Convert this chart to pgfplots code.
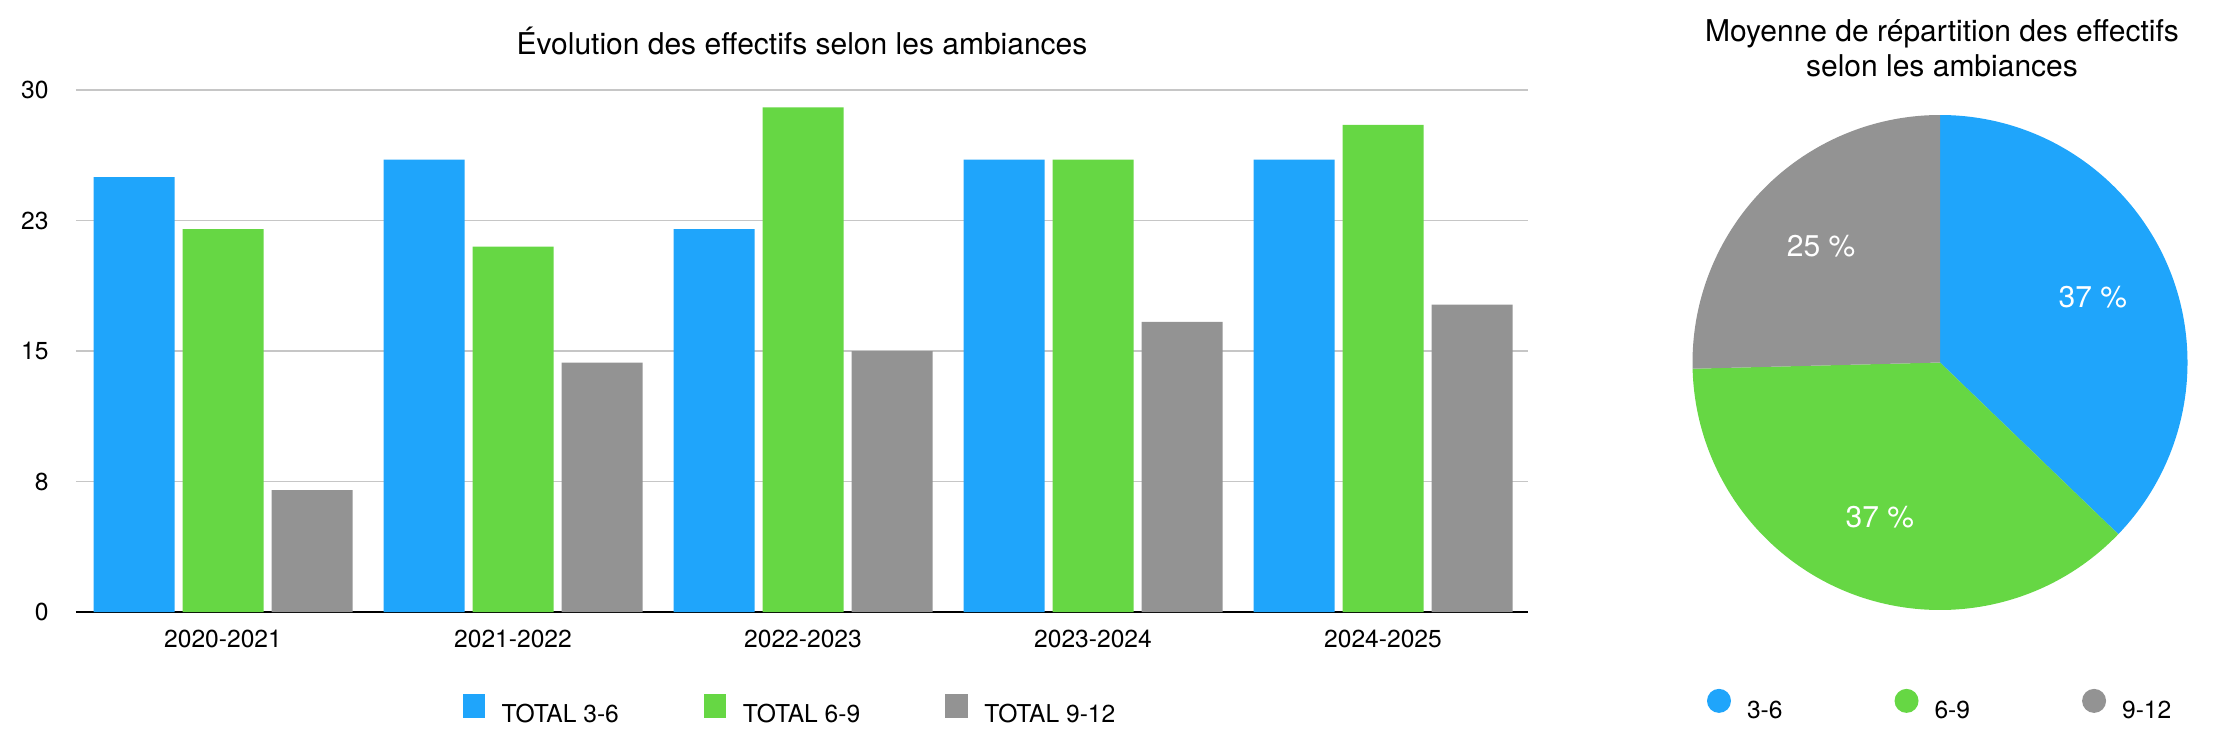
\documentclass[border=0pt]{standalone}
\usepackage{fontspec}
\setmainfont{TeX Gyre Heros}
\usepackage{pgfplots}
\usepackage{pgfplotstable}
\pgfplotsset{compat=1.18}

\definecolor{c36}{HTML}{1FA5FB}
\definecolor{c69}{HTML}{66D744}
\definecolor{c912}{HTML}{939393}
\definecolor{gridc}{HTML}{C6C6C6}

% effectifs par annee (x = rang de l'annee)
\pgfplotstableread{
x  a   b   c
0  25  22  7
1  26  21  14.33
2  22  29  15
3  26  26  16.67
4  26  28  17.67
}\bardata

% moyenne de repartition (en %)
\pgfplotstableread{
label share
3-6   37.2
6-9   37.4
9-12  25.4
}\piedata

\newcommand{\ticksize}{\fontsize{12.3}{14}\selectfont}
\newcommand{\titlesize}{\fontsize{15}{17.5}\selectfont}

\begin{document}
\begin{tikzpicture}
\useasboundingbox (0,0) rectangle (1120pt,376pt);

\pgfplotstablegetelem{0}{share}\of\piedata\pgfmathsetmacro\sA{\pgfplotsretval}
\pgfplotstablegetelem{1}{share}\of\piedata\pgfmathsetmacro\sB{\pgfplotsretval}
\pgfplotstablegetelem{2}{share}\of\piedata\pgfmathsetmacro\sC{\pgfplotsretval}
\pgfmathsetmacro\eA{90-3.6*\sA}
\pgfmathsetmacro\eB{\eA-3.6*\sB}
\pgfmathsetmacro\mA{90-1.8*\sA}
\pgfmathsetmacro\mB{\eA-1.8*\sB}
\pgfmathsetmacro\mC{\eB-1.8*\sC}

\begin{axis}[
  at={(38pt,70pt)}, anchor=south west,
  scale only axis, width=726pt, height=261pt,
  xmin=-0.5069, xmax=4.5, ymin=0, ymax=30,
  ybar=4pt, bar width=40.5pt,
  axis x line*=bottom, axis y line*=left,
  x axis line style={-, draw=black, line width=0.7pt},
  y axis line style={draw=none},
  major tick length=0pt, tick style={draw=none},
  xtick={0,1,2,3,4},
  xticklabels={2020-2021,2021-2022,2022-2023,2023-2024,2024-2025},
  ytick={0,7.5,15,22.5,30}, yticklabels={0,8,15,23,30},
  ymajorgrids, grid style={draw=gridc, line width=0.6pt},
  tick label style={font=\ticksize, inner sep=0pt},
  xticklabel style={anchor=north, yshift=-9pt},
  yticklabel style={anchor=east, xshift=-13.5pt},
  every axis title shift=0pt,
  title={Évolution des effectifs selon les ambiances},
  title style={at={(axis description cs:0.5,1.068)}, anchor=base,
    font=\titlesize, inner sep=0pt},
  legend image code/.code={\fill[#1] (0pt,-1.5pt) rectangle (11.25pt,10.5pt);},
  legend style={at={(axis description cs:0.2662,-0.1877)}, anchor=west,
    draw=none, fill=none, inner sep=0pt, outer sep=0pt,
    font=\ticksize, nodes={inner sep=0pt},
    /tikz/every odd column/.append style={column sep=8.25pt},
    /tikz/every even column/.append style={column sep=42.5pt}},
  legend columns=3,
]
\addplot[fill=c36, draw=none] table[x=x, y=a] {\bardata};
\addlegendentry{TOTAL 3-6}
\addplot[fill=c69, draw=none] table[x=x, y=b] {\bardata};
\addlegendentry{TOTAL 6-9}
\addplot[fill=c912, draw=none] table[x=x, y=c] {\bardata};
\addlegendentry{TOTAL 9-12}
\end{axis}

\begin{axis}[
  at={(970pt,194.75pt)}, anchor=center,
  scale only axis, width=247.5pt, height=247.5pt,
  xmin=-1, xmax=1, ymin=-1, ymax=1,
  hide axis, clip=false,
  every axis title shift=0pt,
  title={Moyenne de répartition des effectifs\\selon les ambiances},
  title style={at={(axis description cs:0.504,1.0768)}, anchor=base,
    align=center, font=\titlesize, inner sep=0pt},
  legend image code/.code={\fill[#1] (6pt,5pt) circle[radius=6pt];},
  legend style={at={(axis description cs:0.0293,-0.1919)}, anchor=west,
    draw=none, fill=none, inner sep=0pt, outer sep=0pt,
    font=\ticksize, nodes={inner sep=0pt},
    /tikz/every odd column/.append style={column sep=8pt},
    /tikz/every even column/.append style={column sep=56pt}},
  legend columns=3,
]
\addlegendimage{fill=c36, draw=none}
\addlegendentry{3-6}
\addlegendimage{fill=c69, draw=none}
\addlegendentry{6-9}
\addlegendimage{fill=c912, draw=none}
\addlegendentry{9-12}

\fill[c36] (axis cs:0,0) -- ++(90:123.75pt) arc[start angle=90, end angle=\eA, radius=123.75pt] -- cycle;
\fill[c69] (axis cs:0,0) -- ++(\eA:123.75pt) arc[start angle=\eA, end angle=\eB, radius=123.75pt] -- cycle;
\fill[c912] (axis cs:0,0) -- ++(\eB:123.75pt) arc[start angle=\eB, end angle=-270, radius=123.75pt] -- cycle;

\path (axis cs:0,0) ++(\mA:83pt) node[text=white, font=\titlesize, inner sep=0pt] {\pgfmathprintnumber[fixed,precision=0,assume math mode=true]{\sA} \%};
\path (axis cs:0,0) ++(\mB:83pt) node[text=white, font=\titlesize, inner sep=0pt] {\pgfmathprintnumber[fixed,precision=0,assume math mode=true]{\sB} \%};
\path (axis cs:0,0) ++(\mC:83pt) node[text=white, font=\titlesize, inner sep=0pt] {\pgfmathprintnumber[fixed,precision=0,assume math mode=true]{\sC} \%};
\end{axis}
\end{tikzpicture}
\end{document}
